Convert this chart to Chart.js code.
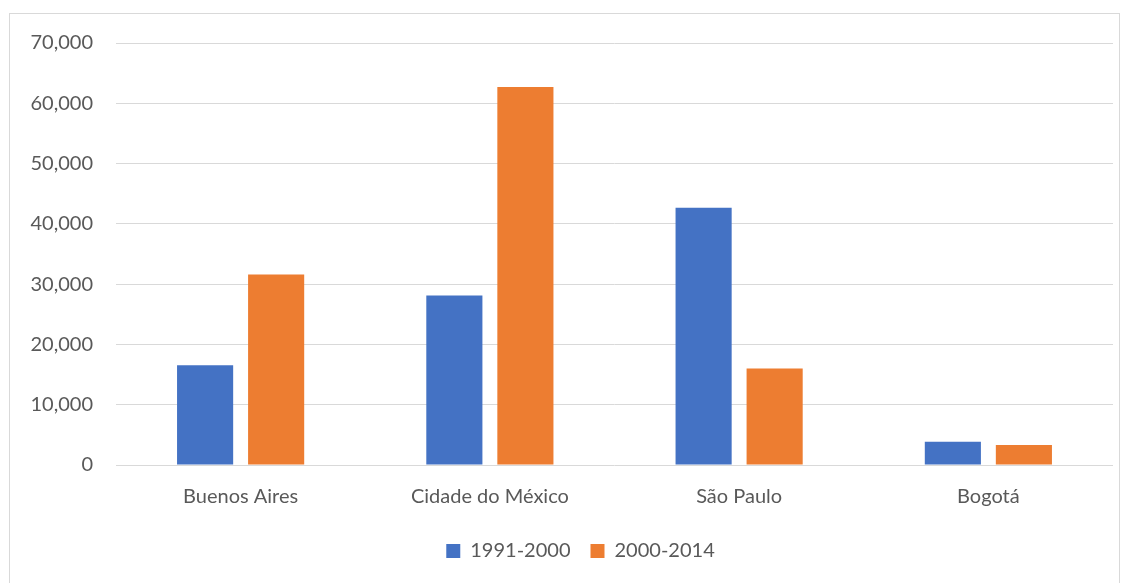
<!DOCTYPE html>
<html>
<head>
<meta charset="utf-8">
<script src="https://cdn.jsdelivr.net/npm/chart.js@4/dist/chart.umd.min.js"></script>
<style>
    html, body { margin: 0; padding: 0; background: #fff; }
    #wrap { position: relative; width: 1129px; height: 583px; }
    #frame { position: absolute; left: 9px; top: 13px; width: 1111px; height: 580px; border: 1px solid #d9d9d9; box-sizing: border-box; }
    canvas { position: absolute; left: 0; top: 0; }
</style>
</head>
<body>
<div id="wrap">
    <div id="frame"></div>
    <canvas id="cityChart" width="1129" height="583"></canvas>
</div>
<script>
// Data
const cities = ['Buenos Aires', 'Cidade do México', 'São Paulo', 'Bogotá'];
const seriesLabels = ['1991-2000', '2000-2014'];
const values1991 = [16550, 28130, 42690, 3850];
const values2000 = [31600, 62720, 16000, 3300];
const yTicks = [0, 10000, 20000, 30000, 40000, 50000, 60000, 70000];

const textColor = '#595959';
const fontFamily = 'Lato, "Open Sans", sans-serif';

// Excel centres the legend under the whole frame, not under the layout box
const legendShift = {
    id: 'legendShift',
    afterLayout(chart) {
        if (chart.legend) {
            chart.legend.left += 14;
            chart.legend.right += 14;
        }
    }
};

document.addEventListener('DOMContentLoaded', function() {
    const ctx = document.getElementById('cityChart').getContext('2d');
    new Chart(ctx, {
        type: 'bar',
        data: {
            labels: cities,
            datasets: [{
                label: seriesLabels[0],
                data: values1991,
                backgroundColor: '#4472C4',
                categoryPercentage: 0.57,
                barPercentage: 0.79
            }, {
                label: seriesLabels[1],
                data: values2000,
                backgroundColor: '#ED7D31',
                categoryPercentage: 0.57,
                barPercentage: 0.79
            }]
        },
        plugins: [legendShift],
        options: {
            responsive: false,
            animation: false,
            layout: {
                padding: { left: 20, right: 16, top: 43, bottom: 12 }
            },
            plugins: {
                legend: {
                    position: 'bottom',
                    labels: {
                        color: textColor,
                        font: { family: fontFamily, size: 20 },
                        boxWidth: 14,
                        boxHeight: 14,
                        padding: 20
                    }
                },
                tooltip: { enabled: false }
            },
            scales: {
                x: {
                    grid: { display: false },
                    border: { display: false },
                    ticks: {
                        color: textColor,
                        font: { family: fontFamily, size: 20 },
                        padding: 12
                    }
                },
                y: {
                    min: 0,
                    max: 70000,
                    afterBuildTicks: function(scale) {
                        scale.ticks = yTicks.map(v => ({ value: v }));
                    },
                    afterFit: function(scale) {
                        scale.width = 96;
                    },
                    grid: { color: '#d9d9d9', lineWidth: 1, drawTicks: false },
                    border: { display: false },
                    ticks: {
                        color: textColor,
                        font: { family: fontFamily, size: 20 },
                        padding: 23,
                        callback: v => v.toLocaleString('en-US')
                    }
                }
            }
        }
    });
});
</script>
</body>
</html>
